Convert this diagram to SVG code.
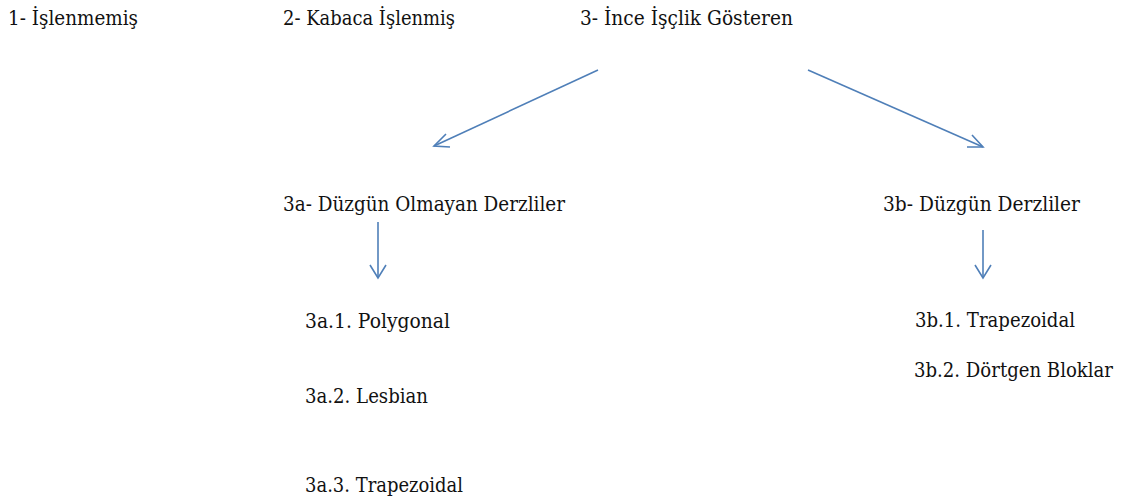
<svg xmlns="http://www.w3.org/2000/svg" width="1125" height="502" viewBox="0 0 1125 502">
<defs>
<style>
.t{font-family:"DejaVu Serif","Liberation Serif","Times New Roman",serif;font-size:20px;fill:#111}
.c line,.c path{stroke:#4f7fb8;stroke-width:1.6;fill:none}
</style>
</defs>
<rect width="1125" height="502" fill="#fff"/>
<g id="n1"><text class="t" x="8" y="25" textLength="130" lengthAdjust="spacingAndGlyphs">1- İşlenmemiş</text></g>
<g id="n2"><text class="t" x="283" y="25" textLength="172" lengthAdjust="spacingAndGlyphs">2- Kabaca İşlenmiş</text></g>
<g id="n3"><text class="t" x="580" y="25" textLength="213" lengthAdjust="spacingAndGlyphs">3- İnce İşçlik Gösteren</text></g>
<g id="n3a"><text class="t" x="283" y="211" textLength="282" lengthAdjust="spacingAndGlyphs">3a- Düzgün Olmayan Derzliler</text></g>
<g id="n3b"><text class="t" x="883" y="211" textLength="197" lengthAdjust="spacingAndGlyphs">3b- Düzgün Derzliler</text></g>
<g id="n3a1"><text class="t" x="305" y="328" textLength="145" lengthAdjust="spacingAndGlyphs">3a.1. Polygonal</text></g>
<g id="n3a2"><text class="t" x="305" y="403" textLength="123" lengthAdjust="spacingAndGlyphs">3a.2. Lesbian</text></g>
<g id="n3a3"><text class="t" x="305" y="492" textLength="158" lengthAdjust="spacingAndGlyphs">3a.3. Trapezoidal</text></g>
<g id="n3b1"><text class="t" x="915" y="327" textLength="160" lengthAdjust="spacingAndGlyphs">3b.1. Trapezoidal</text></g>
<g id="n3b2"><text class="t" x="914" y="377" textLength="199" lengthAdjust="spacingAndGlyphs">3b.2. Dörtgen Bloklar</text></g>
<g class="c" id="connectors">
<line x1="598" y1="70" x2="434" y2="146"/>
<path d="M446 134 L434 146 L450 147"/>
<line x1="808" y1="70" x2="983" y2="147"/>
<path d="M967 147 L983 147 L972 135"/>
<line x1="378" y1="222" x2="378" y2="278"/>
<path d="M370 265 L378 278 L386 265"/>
<line x1="983" y1="230" x2="983" y2="278"/>
<path d="M975 265 L983 278 L991 265"/>
</g>
</svg>
